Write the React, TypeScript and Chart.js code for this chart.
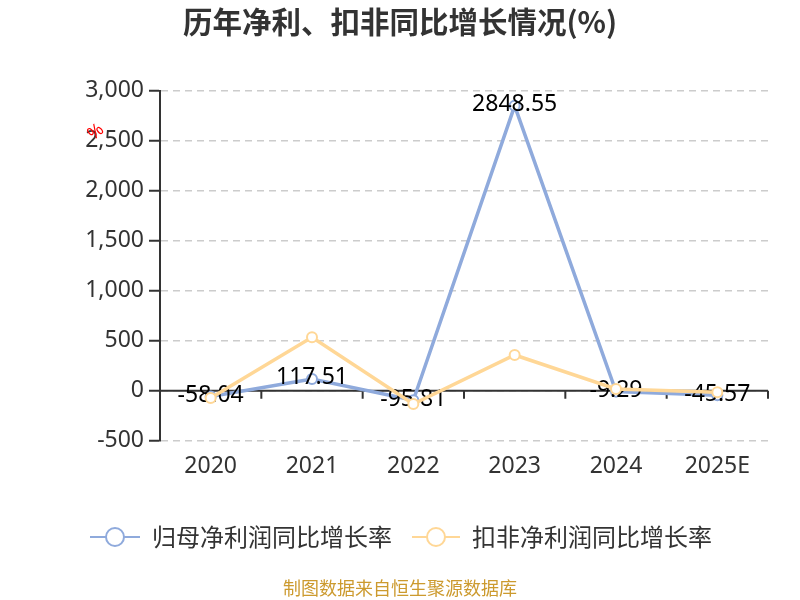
import React, { useEffect, useRef } from "react";
import { Chart, registerables } from "chart.js";

Chart.register(...registerables);

const categories = ["2020", "2021", "2022", "2023", "2024", "2025E"];
const parentGrowth = [-58.04, 117.51, -95.81, 2848.55, -9.29, -45.57];
const deductedGrowth = [-73, 534, -133, 357, 17, -16];
const seriesNames = ["归母净利润同比增长率", "扣非净利润同比增长率"];
const yMin = -500;
const yMax = 3000;
const yStep = 500;
const titleText = "历年净利、扣非同比增长情况(%)";
const sourceText = "制图数据来自恒生聚源数据库";

const BLUE = "#8FAADC";
const ORANGE = "#FFD796";
const NUM_FONT = "'Noto Sans', sans-serif";
const CJK_FONT = "'Noto Sans CJK SC', sans-serif";

const decorPlugin = {
  id: "decor",
  beforeDatasetsDraw(chart: any) {
    const { ctx, chartArea, scales } = chart;
    const y0 = scales.y.getPixelForValue(0);
    ctx.save();
    ctx.strokeStyle = "#333";
    ctx.lineWidth = 2;
    ctx.beginPath();
    ctx.moveTo(chartArea.left, y0);
    ctx.lineTo(chartArea.right, y0);
    const n = categories.length;
    const w = (chartArea.right - chartArea.left) / n;
    for (let i = 1; i <= n; i++) {
      const x = chartArea.left + i * w;
      ctx.moveTo(x, y0);
      ctx.lineTo(x, y0 + 8);
    }
    ctx.stroke();
    ctx.restore();
  },
  afterDatasetDraw(chart: any, args: any) {
    if (args.index !== 0) return;
    const { ctx } = chart;
    const meta = chart.getDatasetMeta(0);
    ctx.save();
    ctx.font = `23px ${NUM_FONT}`;
    ctx.fillStyle = "#000";
    ctx.textAlign = "center";
    ctx.textBaseline = "middle";
    meta.data.forEach((pt: any, i: number) => {
      ctx.fillText(String(parentGrowth[i]), pt.x, pt.y - 1);
    });
    ctx.restore();
  },
  afterDraw(chart: any) {
    const { ctx } = chart;
    ctx.save();
    // title
    ctx.font = `bold 29.5px ${CJK_FONT}`;
    ctx.fillStyle = "#333";
    ctx.textAlign = "center";
    ctx.textBaseline = "middle";
    ctx.fillText(titleText, 400, 22);
    // stray axis unit mark
    ctx.save();
    ctx.translate(96, 132);
    ctx.rotate(-Math.PI / 4.5);
    ctx.font = `18px ${NUM_FONT}`;
    ctx.fillStyle = "#ff0000";
    ctx.textAlign = "center";
    ctx.textBaseline = "middle";
    ctx.fillText("%", 0, 0);
    ctx.restore();
    // legend
    const items = [
      { color: BLUE, x1: 90, x2: 140, cx: 115, tx: 152, label: seriesNames[0] },
      { color: ORANGE, x1: 412, x2: 460, cx: 436, tx: 472, label: seriesNames[1] },
    ];
    const ly = 537;
    items.forEach((it) => {
      ctx.strokeStyle = it.color;
      ctx.lineWidth = 2;
      ctx.beginPath();
      ctx.moveTo(it.x1, ly);
      ctx.lineTo(it.x2, ly);
      ctx.stroke();
      ctx.beginPath();
      ctx.arc(it.cx, ly, 9, 0, Math.PI * 2);
      ctx.fillStyle = "#fff";
      ctx.fill();
      ctx.stroke();
      ctx.font = `24px ${CJK_FONT}`;
      ctx.fillStyle = "#333";
      ctx.textAlign = "left";
      ctx.textBaseline = "middle";
      ctx.fillText(it.label, it.tx, ly);
    });
    // source
    ctx.font = `18px ${CJK_FONT}`;
    ctx.fillStyle = "#CC9A2E";
    ctx.textAlign = "center";
    ctx.textBaseline = "middle";
    ctx.fillText(sourceText, 400, 588);
    ctx.restore();
  },
};

export default function App() {
  const ref = useRef<HTMLCanvasElement | null>(null);
  useEffect(() => {
    if (!ref.current) return;
    const chart = new Chart(ref.current, {
      type: "line",
      data: {
        labels: categories,
        datasets: [
          {
            label: seriesNames[0],
            data: parentGrowth,
            borderColor: BLUE,
            backgroundColor: "#fff",
            borderWidth: 3.5,
            pointRadius: 5,
            pointBorderWidth: 2,
            pointBackgroundColor: "#fff",
            pointBorderColor: BLUE,
            tension: 0,
            order: 1,
          },
          {
            label: seriesNames[1],
            data: deductedGrowth,
            borderColor: ORANGE,
            backgroundColor: "#fff",
            borderWidth: 3.5,
            pointRadius: 5,
            pointBorderWidth: 2,
            pointBackgroundColor: "#fff",
            pointBorderColor: ORANGE,
            tension: 0,
            order: 0,
          },
        ],
      },
      options: {
        responsive: false,
        animation: false,
        layout: { padding: { left: 0, right: 32, top: 90.7, bottom: 119.3 } },
        plugins: {
          legend: { display: false },
          title: { display: false },
          tooltip: { enabled: false },
        },
        scales: {
          x: {
            offset: true,
            grid: { display: false, drawTicks: false },
            border: { display: false },
            ticks: { color: "#333", font: { size: 23, family: NUM_FONT }, padding: 12, maxRotation: 0 },
            afterFit: (s: any) => {
              s.height = 40;
            },
          },
          y: {
            min: yMin,
            max: yMax,
            ticks: {
              stepSize: yStep,
              color: "#333",
              font: { size: 23, family: NUM_FONT },
              padding: 5,
              callback: (v: any) => Number(v).toLocaleString("en-US"),
            },
            grid: {
              color: "#cccccc",
              lineWidth: 1.5,
              tickColor: "#333",
              tickLength: 11,
              tickWidth: 2,
            },
            border: { display: true, color: "#333", width: 2, dash: [7, 5] },
            afterFit: (s: any) => {
              s.width = 160;
            },
          },
        },
      },
      plugins: [decorPlugin],
    });
    return () => chart.destroy();
  }, []);
  return (
    <div style={{ position: "absolute", left: 0, top: 0, width: 800, height: 600, background: "#fff" }}>
      <canvas ref={ref} width={800} height={600} />
    </div>
  );
}
